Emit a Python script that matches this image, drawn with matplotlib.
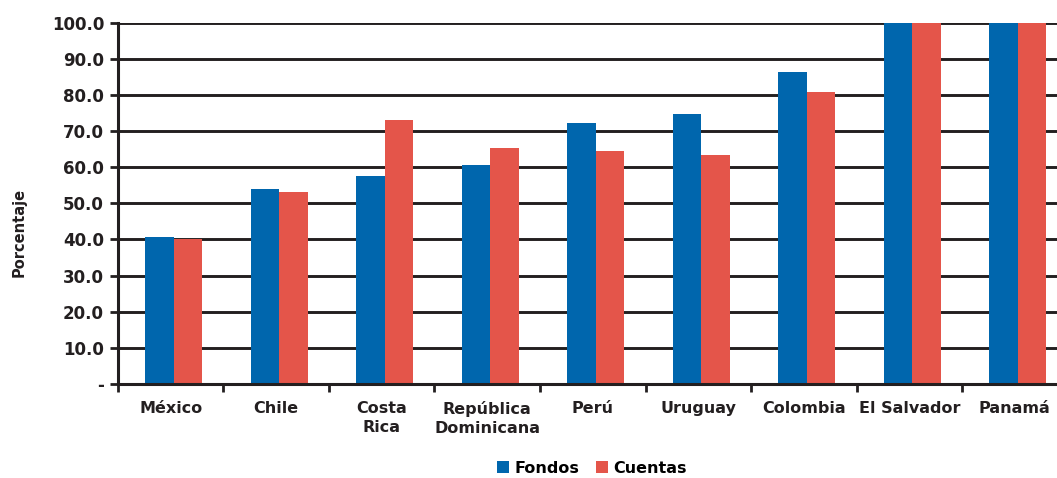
import matplotlib
matplotlib.use('Agg')
import matplotlib.pyplot as plt
import numpy as np

paises = ['México', 'Chile', 'Costa\nRica', 'República\nDominicana', 'Perú',
          'Uruguay', 'Colombia', 'El Salvador', 'Panamá']
fondos = [40.7, 54.0, 57.6, 60.7, 72.3, 74.8, 86.4, 100.0, 100.0]
cuentas = [40.2, 53.2, 73.1, 65.4, 64.5, 63.4, 80.9, 100.0, 100.0]
yticks = [0, 10, 20, 30, 40, 50, 60, 70, 80, 90, 100]
ylabels = ['-'] + ['%.1f' % v for v in yticks[1:]]

azul = '#0066ad'
rojo = '#e4554a'
negro = '#231f20'

plt.rcParams['font.family'] = ['DejaVu Sans']
plt.rcParams['font.weight'] = 'bold'

fig = plt.figure(figsize=(10.57, 4.78), dpi=100)
ax = fig.add_axes([0.1116, 0.197, 0.8884, 0.755])

x = np.arange(len(paises))
w = 0.27
ax.bar(x - w / 2 + 0.03, fondos, w, color=azul, label='Fondos', zorder=3)
ax.bar(x + w / 2 + 0.03, cuentas, w, color=rojo, label='Cuentas', zorder=3)

ax.set_xlim(-0.5, 8.4)
ax.set_ylim(0, 100)
ax.set_yticks(yticks)
ax.set_yticklabels(ylabels, fontsize=12, fontweight='bold', color=negro)
ax.yaxis.grid(True, color=negro, lw=2.1, zorder=1)
ax.set_axisbelow(True)

ax.set_xticks(x)
ax.set_xticklabels(paises, fontsize=11.5, fontweight='bold', color=negro,
                   linespacing=1.4, va='top')
ax.tick_params(axis='x', which='major', length=0, pad=12)
ax.set_xticks(np.arange(-0.5, 8.5, 1.0), minor=True)
ax.tick_params(axis='x', which='minor', length=6, width=2, color=negro)
ax.tick_params(axis='y', length=6, width=2, color=negro, pad=4)

for s in ['top', 'right']:
    ax.spines[s].set_visible(False)
for s in ['left', 'bottom']:
    ax.spines[s].set_color(negro)
    ax.spines[s].set_linewidth(2.2)
    ax.spines[s].set_zorder(4)

ax.set_ylabel('Porcentaje', fontsize=10.5, fontweight='bold', color=negro)
ax.yaxis.set_label_coords(-0.097, 0.42)

fig.legend(loc='lower center', bbox_to_anchor=(0.56, -0.025), ncol=2, frameon=False,
           handlelength=0.75, handleheight=0.75, handletextpad=0.35,
           columnspacing=1.0, prop={'weight': 'bold', 'size': 11.5})

fig.savefig('out.png', dpi=100)
